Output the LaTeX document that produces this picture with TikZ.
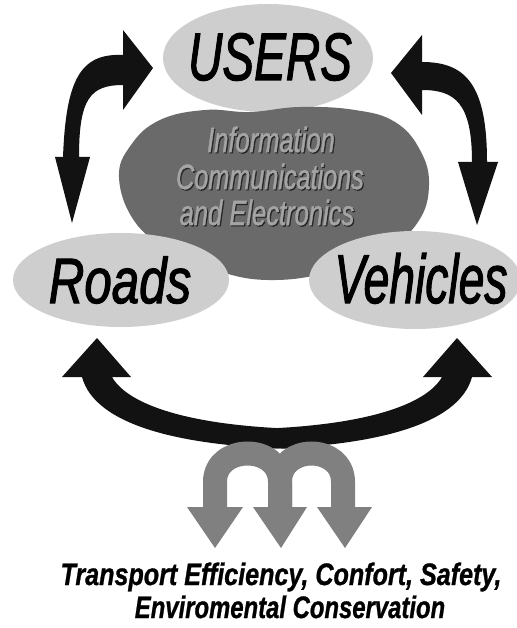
\documentclass[tikz,border=0pt]{standalone}
\usepackage{fontspec}
\setmainfont{Liberation Sans}
\newfontfamily\heavyit{Liberation Sans Italic}[FakeBold=2]
\newfontfamily\midit{Liberation Sans Italic}[FakeBold=1.5]
\newfontfamily\heavybi{Liberation Sans Bold Italic}[FakeBold=1]
\usepackage{graphicx}
\usetikzlibrary{shapes.geometric}
\definecolor{ellgray}{HTML}{CECECE}
\definecolor{blobgray}{HTML}{6A6A6A}
\definecolor{blobtext}{HTML}{A4A4A4}
\definecolor{arrblack}{HTML}{121212}
\definecolor{arrgray}{HTML}{808080}
\newcommand{\nartext}[3]{\scalebox{#1}[1]{\fontsize{#2}{#2}\selectfont #3}}
\begin{document}
\begin{tikzpicture}[x=1pt,y=-1pt,
  ellnode/.style={ellipse, fill=ellgray, inner sep=0pt},
  bigtext/.style={anchor=base, inner sep=0pt, text=black},
  blobtxt/.style={anchor=base, inner sep=0pt, text=blobtext},
  blobshadow/.style={anchor=base, inner sep=0pt, text=black!85},
  bottomtxt/.style={anchor=base, inner sep=0pt, text=black},
  grayband/.style={draw=arrgray, line width=24pt}]
\useasboundingbox (0,0) rectangle (516,628);
\fill[white] (0,0) rectangle (516,628);

% ellipses and blob
\node[ellnode, minimum width=210pt, minimum height=108pt] (usersell) at (268,58) {};
\fill[blobgray] plot[smooth cycle, tension=0.7] coordinates {
  (119,178) (131,145) (160,120) (205,110) (250,112) (300,107) (355,110)
  (395,122) (420,150) (429,185) (418,222) (385,250) (330,272) (268,280)
  (215,270) (170,250) (135,222)};
\node[ellnode, minimum width=216pt, minimum height=94pt] (roadsell) at (121,280) {};
\node[ellnode, minimum width=212pt, minimum height=98pt] (vehell) at (415,280) {};

% texts
\node[bigtext] (users) at (270,80) {\nartext{0.71}{67}{\heavyit USERS}};
\node[bigtext] (roads) at (120,303) {\nartext{0.77}{64}{\heavyit Roads}};
\node[bigtext] (vehicles) at (421,303) {\nartext{0.67}{69}{\heavyit Vehicles}};

\node[blobshadow] (infos) at (272.2,153.2) {\nartext{0.73}{35}{\midit Information}};
\node[blobtxt] (info) at (271,152) {\nartext{0.73}{35}{\midit Information}};
\node[blobshadow] (comms) at (271.2,190.2) {\nartext{0.72}{35}{\midit Communications}};
\node[blobtxt] (comm) at (270,189) {\nartext{0.72}{35}{\midit Communications}};
\node[blobshadow] (elecs) at (268.2,226.2) {\nartext{0.73}{35}{\midit and Electronics}};
\node[blobtxt] (elec) at (267,225) {\nartext{0.73}{35}{\midit and Electronics}};

% upper left double arrow
\fill[arrblack] (123,30) -- (153,68) -- (123,110) -- (123,85)
  .. controls (90,85) and (79,99) .. (79,157) -- (90,157) -- (72,223) -- (55,157) -- (63,157)
  .. controls (66,80) and (80,53) .. (123,55) -- cycle;
% upper right double arrow
\fill[arrblack] (422,35) -- (391,73) -- (422,115) -- (422,90)
  .. controls (455,90) and (472,103) .. (472,162) -- (458,162) -- (477,225) -- (498,162) -- (487,162)
  .. controls (487,85) and (466,62) .. (422,62) -- cycle;

% bottom black arrows
\fill[arrblack] (300,449) .. controls (180,447) and (95,425) .. (82,377)
  -- (62,377) -- (97,338) -- (131,377) -- (112,377)
  .. controls (128,405) and (190,426) .. (300,429) -- cycle;
\fill[arrblack] (254,449) .. controls (374,447) and (459,425) .. (472,377)
  -- (492,377) -- (457,338) -- (423,377) -- (442,377)
  .. controls (426,405) and (364,426) .. (254,429) -- cycle;

% gray triple arrow
\draw[grayband] (215,508) -- (215,482) .. controls (215,444) and (280,444) .. (280,482) -- (280,508);
\draw[grayband] (280,508) -- (280,482) .. controls (280,444) and (343,444) .. (343,482) -- (343,508);
\fill[arrgray] (187,507) -- (243,507) -- (215,548) -- cycle;
\fill[arrgray] (253,507) -- (307,507) -- (281,548) -- cycle;
\fill[arrgray] (317,507) -- (372,507) -- (345,548) -- cycle;

% bottom text
\node[bottomtxt] (line1) at (281,585) {\nartext{0.81}{31}{\heavybi Transport Efficiency, Confort, Safety,}};
\node[bottomtxt] (line2) at (290,618) {\nartext{0.77}{31}{\heavybi Enviromental Conservation}};
\end{tikzpicture}
\end{document}
